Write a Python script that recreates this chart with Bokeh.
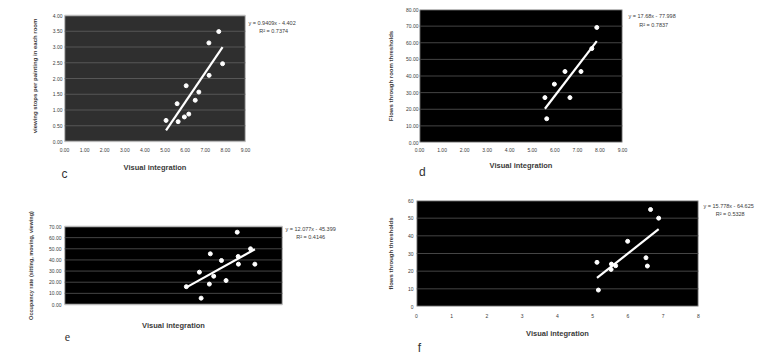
from bokeh.plotting import figure
from bokeh.layouts import column, row
from bokeh.models import (NumeralTickFormatter, FixedTicker, Range1d,
                          BoxAnnotation, LinearAxis)
from bokeh.embed import file_html
from bokeh.resources import INLINE

# ---------------- data ----------------
c_x = [5.05, 5.60, 5.65, 5.96, 6.05, 6.18, 6.50, 6.68, 7.18, 7.19, 7.67, 7.86]
c_y = [0.67, 1.20, 0.63, 0.78, 1.77, 0.87, 1.31, 1.57, 3.13, 2.10, 3.49, 2.47]
c_fit = (0.9409, -4.402)
c_eq = ["y = 0.9409x - 4.402", "R² = 0.7374"]
c_yticks = [0, 0.5, 1, 1.5, 2, 2.5, 3, 3.5, 4]

d_x = [5.56, 5.64, 5.98, 6.45, 6.67, 7.16, 7.64, 7.86]
d_y = [27.0, 14.3, 35.1, 42.7, 27.0, 42.7, 56.5, 69.2]
d_fit = (17.68, -77.998)
d_eq = ["y = 17.68x - 77.998", "R² = 0.7837"]
d_yticks = [0, 10, 20, 30, 40, 50, 60, 70, 80]

e_x = [5.03, 5.57, 5.64, 5.98, 6.02, 6.16, 6.48, 6.67, 7.13, 7.17, 7.18, 7.68, 7.86]
e_y = [16.0, 29.0, 5.7, 18.3, 45.5, 25.4, 39.5, 21.5, 64.9, 43.1, 36.2, 50.0, 36.2]
e_fit = (12.077, -45.399)
e_eq = ["y = 12.077x - 45.399", "R² = 0.4146"]
e_yticks = [0, 10, 20, 30, 40, 50, 60, 70]

f_x = [5.12, 5.16, 5.53, 5.52, 5.65, 5.99, 6.51, 6.55, 6.64, 6.87]
f_y = [25.0, 9.3, 24.0, 21.0, 23.1, 36.9, 27.6, 22.9, 54.9, 50.0]
f_fit = (15.778, -64.625)
f_eq = ["y = 15.778x - 64.625", "R² = 0.5328"]
f_yticks = [0, 10, 20, 30, 40, 50, 60]

x_ticks9 = [0, 1, 2, 3, 4, 5, 6, 7, 8, 9]
x_ticks8 = [0, 1, 2, 3, 4, 5, 6, 7, 8]

FONT = "Liberation Sans"
TXT = "#3a3a3a"
NBSP = "\u00a0"


def text_axis(range_name, tick, label, **kw):
    """An axis with no line and no ticks that only carries one text label."""
    return LinearAxis(y_range_name=range_name, ticker=FixedTicker(ticks=[tick]),
                      major_label_overrides={tick: label}, axis_line_color=None,
                      major_tick_line_color=None, minor_tick_line_color=None,
                      major_tick_out=0, major_tick_in=0, minor_tick_out=0, **kw)


def panel(xs, ys, fit, eq, letter, ylabel, xr, yr, yticks, xticks, fmt, s):
    X0, Y0, W, H = s["canvas"]
    L, T, R, B = s["box"]
    FT, FB = s["frame_tb"]
    sy = (yr[1] - yr[0]) / (B - T)
    fy = (yr[0] - (FB - B) * sy, yr[1] + (T - FT) * sy)

    p = figure(width=W, height=H, output_backend="svg", toolbar_location=None,
               x_range=Range1d(*xr), y_range=Range1d(*fy),
               min_border_left=L - X0, min_border_right=X0 + W - R,
               min_border_top=FT - Y0, min_border_bottom=Y0 + H - FB)
    p.background_fill_color = "white"
    p.border_fill_color = "white"
    p.outline_line_color = None
    p.add_layout(BoxAnnotation(left=xr[0], right=xr[1], bottom=yr[0], top=yr[1],
                               fill_color=s["bg"], fill_alpha=1.0,
                               line_color="#b8b8b8", line_width=1.5, line_alpha=1.0,
                               level="image"))
    p.xgrid.grid_line_color = None
    p.ygrid.grid_line_color = None
    inner = yticks[1:-1]
    p.segment(x0=[xr[0]] * len(inner), x1=[xr[1]] * len(inner), y0=inner, y1=inner,
              line_color=s["grid"], line_width=1)

    p.yaxis.ticker = FixedTicker(ticks=yticks)
    p.xaxis.ticker = FixedTicker(ticks=xticks)
    if fmt:
        p.yaxis.formatter = NumeralTickFormatter(format=fmt)
        p.xaxis.formatter = NumeralTickFormatter(format=fmt)
    for ax in (p.xaxis[0], p.yaxis[0]):
        ax.axis_line_color = None
        ax.major_tick_line_color = None
        ax.minor_tick_line_color = None
        ax.major_tick_out = 0
        ax.major_tick_in = 0
        ax.minor_tick_out = 0
        ax.major_label_text_font = FONT
        ax.major_label_text_font_size = "5px"
        ax.major_label_text_color = TXT
        ax.axis_label_text_font = FONT
        ax.axis_label_text_font_style = "bold"
        ax.axis_label_text_color = TXT
    p.yaxis.major_label_standoff = s["ytick_so"]
    p.xaxis.major_label_standoff = s["xtick_so"]
    p.xaxis.axis_label = "Visual integration"
    p.xaxis.axis_label_text_font_size = "7.5px"
    p.xaxis.axis_label_standoff = s["xlab_so"]

    # pixel-scaled helper ranges for text placed outside the plot area
    p.extra_x_ranges = {"px": Range1d(L, R)}
    p.extra_y_ranges = {"py": Range1d(FB, FT)}

    if s.get("ylab_tick") is None:
        p.yaxis.axis_label = ylabel
        p.yaxis.axis_label_text_font_size = "6px"
        p.yaxis.axis_label_standoff = s["ylab_so"]
    else:
        yl = text_axis("py", s["ylab_tick"], ylabel,
                       major_label_orientation="parallel",
                       major_label_standoff=s["ylab_so"],
                       major_label_text_font=FONT, major_label_text_font_style="bold",
                       major_label_text_font_size="5.5px", major_label_text_color=TXT)
        p.add_layout(yl, "left")

    # regression equation and R² to the right of the plot area
    (ey, ry), (so, pad) = s["eq"]
    ea = LinearAxis(y_range_name="py", ticker=FixedTicker(ticks=[ey, ry]),
                    major_label_overrides={ey: eq[0], ry: NBSP * pad + eq[1]},
                    axis_line_color=None, major_tick_line_color=None,
                    minor_tick_line_color=None, major_tick_out=0, major_tick_in=0,
                    minor_tick_out=0, major_label_standoff=so,
                    major_label_text_font=FONT, major_label_text_font_size="5.5px",
                    major_label_text_color=TXT)
    p.add_layout(ea, "right")

    # panel letter below the axis title
    lx, lso = s["letter"]
    la = LinearAxis(x_range_name="px", ticker=FixedTicker(ticks=[lx]),
                    major_label_overrides={lx: letter},
                    axis_line_color=None, major_tick_line_color=None,
                    minor_tick_line_color=None, major_tick_out=0, major_tick_in=0,
                    minor_tick_out=0, major_label_standoff=lso,
                    major_label_text_font=s.get("lfont", FONT),
                    major_label_text_font_size="12px",
                    major_label_text_color="#333333")
    p.add_layout(la, "below")

    xmin, xmax = min(xs), max(xs)
    p.line([xmin, xmax], [fit[0] * xmin + fit[1], fit[0] * xmax + fit[1]],
           line_color="white", line_width=2.2)
    p.scatter(xs, ys, size=4, fill_color="white", line_color="white")
    return p


spec_c = dict(canvas=(0, 0, 384, 184), box=(64, 15, 245, 141), frame_tb=(9, 142),
              bg="#2f2f2f", grid="#575757", ytick_so=2, ylab_so=12, xtick_so=5,
              xlab_so=8, eq=((22, 30), (3, 7)), letter=(64, -8))
spec_d = dict(canvas=(384, 0, 386, 184), box=(414, 9, 622, 142), frame_tb=(9, 142),
              bg="black", grid="#454545", ytick_so=1, ylab_so=9, xtick_so=5,
              xlab_so=6, eq=((15, 24), (6, 7)), letter=(417, -8))
spec_e = dict(canvas=(0, 184, 384, 176), box=(64, 226, 282, 304), frame_tb=(200, 306),
              bg="black", grid="#454545", ytick_so=3, ylab_so=12, ylab_tick=265,
              xtick_so=0, xlab_so=14, eq=((228, 236), (3, 7)), letter=(67, 0),
              lfont="Liberation Serif")
spec_f = dict(canvas=(384, 184, 386, 176), box=(412, 200, 698, 306), frame_tb=(200, 306),
              bg="black", grid="#454545", ytick_so=3, ylab_so=11, xtick_so=7,
              xlab_so=8, eq=((205, 213), (5, 8)), letter=(415, 0))

pc = panel(c_x, c_y, c_fit, c_eq, "c", "viewing stops per painting in each room",
           (0, 9), (0, 4), c_yticks, x_ticks9, "0.00", spec_c)
pd_ = panel(d_x, d_y, d_fit, d_eq, "d", "Flows through room thresholds",
            (0, 9), (0, 80), d_yticks, x_ticks9, "0.00", spec_d)
pe = panel(e_x, e_y, e_fit, e_eq, "e", "Occupancy rate (sitting, moving, viewing)",
           (0, 9), (0, 70), e_yticks, [], "0.00", spec_e)
pf = panel(f_x, f_y, f_fit, f_eq, "f", "flows through thresholds",
           (0, 8), (0, 60), f_yticks, x_ticks8, None, spec_f)

layout = column(row(pc, pd_, spacing=0), row(pe, pf, spacing=0), spacing=0)
open("out.html", "w").write(file_html(layout, INLINE))
